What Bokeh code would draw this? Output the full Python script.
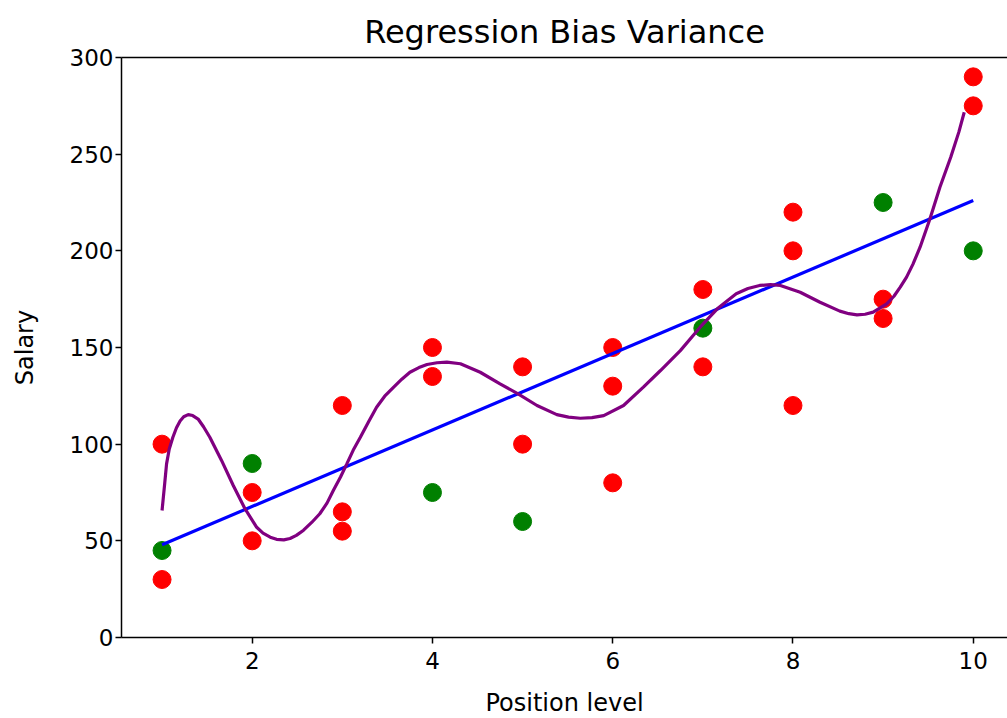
from bokeh.plotting import figure
from bokeh.models import LinearAxis, FixedTicker, Range1d
from bokeh.embed import file_html
from bokeh.resources import INLINE

# ---- data ----
red_x = [1, 1, 2, 2, 3, 3, 3, 4, 4, 5, 5, 6, 6, 6, 7, 7, 8, 8, 8, 9, 9, 10, 10]
red_y = [100, 30, 75, 50, 120, 65, 55, 150, 135, 140, 100, 150, 130, 80, 180, 140,
         220, 200, 120, 175, 165, 290, 275]
green_x = [1, 2, 4, 5, 7, 9, 10]
green_y = [45, 90, 75, 60, 160, 225, 200]

linear_x = [1, 10]
linear_y = [48, 226]

poly_x = [1.0, 1.03, 1.05, 1.08, 1.12, 1.16, 1.20, 1.24, 1.29, 1.34, 1.40, 1.46, 1.53,
          1.66, 1.79, 1.92, 2.05, 2.12, 2.20, 2.27, 2.35, 2.42, 2.49, 2.57, 2.66, 2.75,
          2.83, 2.90, 2.98, 3.05, 3.12, 3.20, 3.29, 3.38, 3.47, 3.57, 3.66, 3.75, 3.85,
          3.94, 4.05, 4.16, 4.31, 4.53, 4.75, 4.95, 5.16, 5.38, 5.51, 5.64, 5.77, 5.90,
          6.12, 6.34, 6.53, 6.75, 6.97, 7.16, 7.37, 7.50, 7.63, 7.75, 7.86, 8.08, 8.30,
          8.52, 8.62, 8.71, 8.80, 8.89, 9.04, 9.12, 9.19, 9.26, 9.33, 9.41, 9.52, 9.63,
          9.75, 9.84, 9.90]
poly_y = [65.7, 80.0, 89.8, 97.5, 103.6, 108.5, 112.0, 114.2, 115.3, 114.8, 113.0, 109.0,
          103.6, 91.6, 78.6, 66.6, 57.0, 54.0, 51.9, 50.8, 50.5, 51.2, 52.8, 55.5, 59.5,
          64.0, 69.5, 76.0, 83.0, 89.8, 96.8, 103.6, 111.5, 119.1, 124.8, 129.5, 133.6,
          137.2, 139.6, 141.2, 142.1, 142.4, 141.6, 137.2, 131.2, 126.0, 120.0, 115.3,
          114.0, 113.4, 113.7, 114.8, 120.0, 129.5, 138.1, 148.4, 160.5, 170.0, 177.8,
          180.5, 182.1, 182.5, 182.1, 178.6, 173.4, 168.8, 167.5, 166.9, 167.2, 168.3,
          172.6, 176.5, 181.2, 186.4, 193.0, 201.9, 216.6, 232.9, 248.4, 261.4, 271.7]

x_ticks = [2, 4, 6, 8, 10]
y_ticks = [0, 50, 100, 150, 200, 250, 300]

title_text = "Regression Bias Variance"
x_label = "Position level"
y_label = "Salary"

FONT = "DejaVu Sans"

p = figure(
    frame_width=886, frame_height=580,
    x_range=Range1d(0.55, 10.38), y_range=Range1d(0, 300),
    output_backend="svg", toolbar_location=None,
    title=title_text,
    min_border_left=121, min_border_right=0, min_border_top=57, min_border_bottom=81,
    x_axis_label=x_label, y_axis_label=y_label,
)
p.background_fill_color = "white"
p.border_fill_color = "white"
p.outline_line_color = None
p.xgrid.grid_line_color = None
p.ygrid.grid_line_color = None

p.title.align = "center"
p.title.text_font = FONT
p.title.text_font_size = "32px"
p.title.text_font_style = "normal"
p.title.text_color = "black"
p.title.standoff = 13

for ax in (p.xaxis[0], p.yaxis[0]):
    ax.axis_line_color = "black"
    ax.axis_line_width = 1.5
    ax.major_tick_line_color = "black"
    ax.major_tick_line_width = 1.5
    ax.major_tick_out = 6
    ax.major_tick_in = 0
    ax.minor_tick_line_color = None
    ax.major_label_text_font = FONT
    ax.major_label_text_font_size = "23px"
    ax.major_label_text_color = "black"
    ax.axis_label_text_font = FONT
    ax.axis_label_text_font_size = "24px"
    ax.axis_label_text_font_style = "normal"
    ax.axis_label_text_color = "black"

p.xaxis[0].ticker = FixedTicker(ticks=x_ticks)
p.yaxis[0].ticker = FixedTicker(ticks=y_ticks)
p.xaxis[0].major_label_standoff = 8
p.xaxis[0].axis_label_standoff = 17
p.yaxis[0].major_label_standoff = 2
p.yaxis[0].axis_label_standoff = 28

top = LinearAxis(ticker=FixedTicker(ticks=[]))
top.axis_line_color = "black"
top.axis_line_width = 1.5
top.major_tick_line_color = None
top.minor_tick_line_color = None
p.add_layout(top, "above")

p.scatter(red_x, red_y, size=18, fill_color="#ff0000", line_color="#ff0000")
p.scatter(green_x, green_y, size=18, fill_color="#008000", line_color="#008000")
p.line(linear_x, linear_y, line_color="#0000ff", line_width=3.2)
p.line(poly_x, poly_y, line_color="#800080", line_width=3.2)

open("out.html", "w").write(file_html(p, INLINE))
